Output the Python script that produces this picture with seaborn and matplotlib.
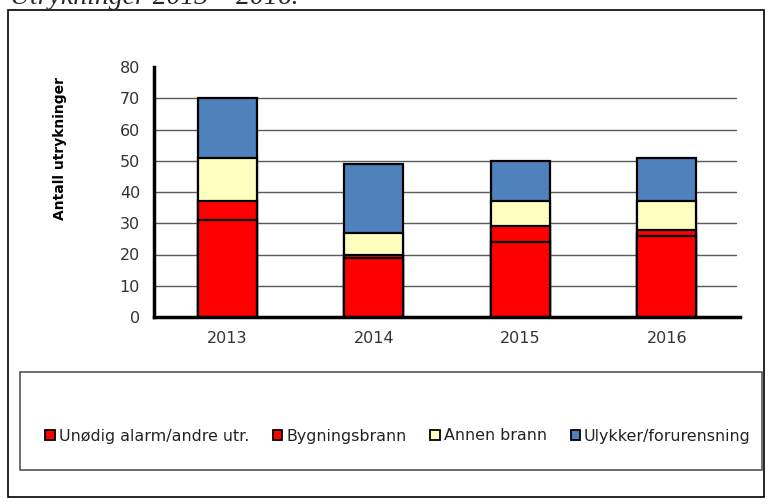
import matplotlib
matplotlib.use("Agg")
import matplotlib.pyplot as plt
from matplotlib.patches import Rectangle, Patch
import seaborn as sns
import pandas as pd
import numpy as np

years = ["2013", "2014", "2015", "2016"]
unodig = [31, 19, 24, 26]
bygning = [6, 1, 5, 2]
annen = [14, 7, 8, 9]
ulykker = [19, 22, 13, 14]
series_names = ["Unødig alarm/andre utr.", "Bygningsbrann", "Annen brann", "Ulykker/forurensning"]
colors = ["#FF0000", "#FF0000", "#FFFFC0", "#4F81BD"]
yticks = [0, 10, 20, 30, 40, 50, 60, 70, 80]
title = "Utrykninger 2013 – 2016."
ylabel = "Antall utrykninger"

sns.set_theme(style="white")
plt.rcParams["font.family"] = ["DejaVu Sans"]

fig = plt.figure(figsize=(7.73, 5.04), dpi=100)
W, H = 773, 504
ax = fig.add_axes([154 / W, (H - 317) / H, (740 - 154) / W, (317 - 67) / H])

df = pd.DataFrame({"year": years, "s1": unodig, "s2": bygning, "s3": annen, "s4": ulykker})
df["c1"] = df["s1"]
df["c2"] = df["c1"] + df["s2"]
df["c3"] = df["c2"] + df["s3"]
df["c4"] = df["c3"] + df["s4"]

for col, color in zip(["c4", "c3", "c2", "c1"], colors[::-1]):
    sns.barplot(data=df, x="year", y=col, color=color, width=0.40,
                edgecolor="black", linewidth=1.6, ax=ax, saturation=1, zorder=3)

ax.set_xlim(-0.5, 3.5)
ax.set_ylim(0, 80)
ax.set_yticks(yticks)
ax.set_yticklabels([str(v) for v in yticks], fontsize=11.5, color="#333333")
ax.set_xlabel("")
ax.set_ylabel("")
ax.tick_params(axis="x", length=0, labelsize=11.5, labelcolor="#333333", pad=10)
ax.set_xticks(np.arange(-0.5, 4, 1), minor=True)
ax.tick_params(axis="x", which="minor", direction="out", length=4, width=2.5, color="black")
ax.tick_params(axis="y", direction="out", length=4, width=2.5, color="black", pad=6)

for v in yticks[1:-1]:
    ax.plot([-0.5, 3.47], [v, v], color="#5a5a5a", lw=1.0, zorder=1)

for s in ["top", "right"]:
    ax.spines[s].set_visible(False)
for s in ["left", "bottom"]:
    ax.spines[s].set_linewidth(2.5)
    ax.spines[s].set_color("black")
    ax.spines[s].set_zorder(4)

fig.text(60 / W, (H - 149) / H, ylabel, rotation=90, fontsize=10, fontweight="bold",
         color="black", ha="center", va="center")

# outer frame
fig.patches.append(Rectangle((8 / W, (H - 497) / H), (764 - 8) / W, (497 - 10) / H,
                             transform=fig.transFigure, fill=False, edgecolor="black", lw=1.2))
# legend box
fig.patches.append(Rectangle((20 / W, (H - 470) / H), (762 - 20) / W, (470 - 372) / H,
                             transform=fig.transFigure, fill=False, edgecolor="#555555", lw=1.2))

handles = [Patch(facecolor=c, edgecolor="black", lw=1.3) for c in colors]
fig.legend(handles, series_names, loc="center", bbox_to_anchor=(398 / W, (H - 436) / H),
           ncol=4, frameon=False, fontsize=11.4, handlelength=0.6, handleheight=0.6,
           handletextpad=0.25, columnspacing=1.5, borderaxespad=0, labelcolor="#222222")

fig.text(10 / W, (H - 4) / H, title, fontsize=20, style="italic",
         family=["Liberation Serif", "DejaVu Serif"], va="baseline", ha="left")

fig.savefig("out.png", dpi=100)
